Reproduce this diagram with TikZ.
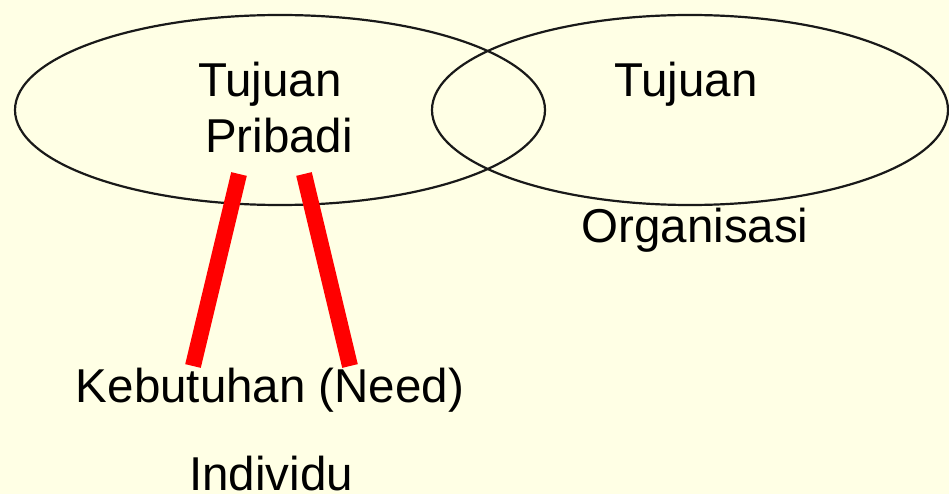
\documentclass[tikz,border=0pt]{standalone}
\usepackage{fontspec}
\setmainfont{Liberation Sans}
\usetikzlibrary{shapes.geometric}
\definecolor{bgyellow}{RGB}{255,255,229}
\definecolor{barred}{RGB}{255,0,0}
\tikzset{
  goal/.style={ellipse, draw=black!90, line width=2.2pt, inner sep=0pt},
  lbl/.style={anchor=base, inner sep=0pt, font=\fontsize{47.5}{50}\selectfont},
  bar/.style={draw=barred, line width=16pt, line cap=butt}
}
\begin{document}
\begin{tikzpicture}[x=1pt, y=-1pt]
  \fill[bgyellow] (0,0) rectangle (949,494);
  \useasboundingbox (0,0) rectangle (949,494);
  \node[goal, minimum width=530pt, minimum height=190pt] (pribadi) at (280,110) {};
  \node[goal, minimum width=516pt, minimum height=190pt] (organisasi) at (690,110) {};
  \node[lbl] (t1) at (270,97) {Tujuan};
  \node[lbl] (t2) at (279,153) {Pribadi};
  \node[lbl] (t3) at (686,97) {Tujuan};
  \node[lbl] (t4) at (695,242) {Organisasi};
  \node[lbl] (t5) at (270,402) {Kebutuhan (Need)};
  \node[lbl] (t6) at (271,490) {Individu};
  \coordinate (a1) at (239,174);
  \coordinate (a2) at (193,366);
  \coordinate (b1) at (304,174);
  \coordinate (b2) at (350,366);
  \draw[bar] (a1) -- (a2);
  \draw[bar] (b1) -- (b2);
\end{tikzpicture}
\end{document}
